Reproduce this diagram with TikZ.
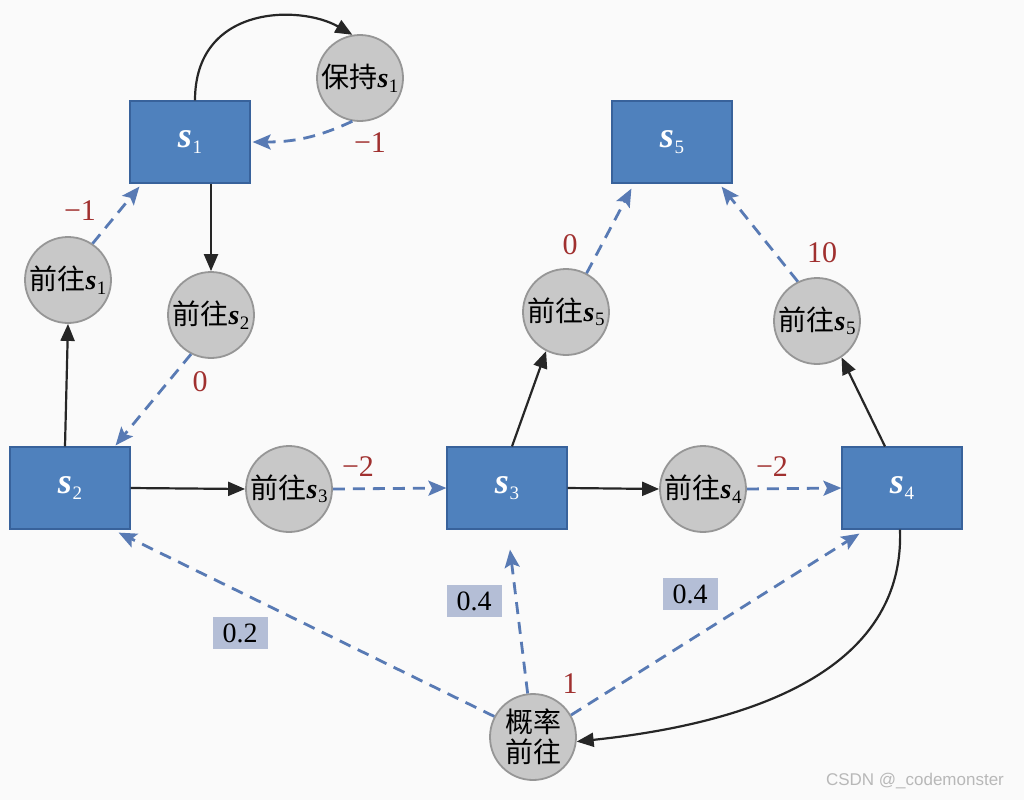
\documentclass[tikz,border=0pt]{standalone}
\usepackage{fontspec}
\setmainfont{Liberation Serif}
\newfontfamily\cjk{Noto Sans CJK SC}
\newfontfamily\wmfont{Liberation Sans}
\usetikzlibrary{arrows.meta}
\definecolor{boxblue}{RGB}{79,129,189}
\definecolor{boxedge}{RGB}{56,98,155}
\definecolor{circfill}{RGB}{200,200,200}
\definecolor{circedge}{RGB}{150,150,150}
\definecolor{dashblue}{RGB}{88,122,180}
\definecolor{numred}{RGB}{160,48,47}
\definecolor{probfill}{RGB}{180,190,214}
\definecolor{bgcol}{RGB}{250,250,250}
\newcommand{\sv}[1]{{\bfseries\itshape s}\kern0.3pt\raisebox{-0.35ex}{\fontsize{9.5}{10}\selectfont #1}}
\begin{document}
\begin{tikzpicture}[x=0.5pt,y=0.5pt,
  state/.style={rectangle, fill=boxblue, draw=boxedge, line width=0.6pt,
    minimum width=60pt, minimum height=41pt, inner sep=0pt, text=white,
    font=\fontsize{18}{20}\selectfont},
  act/.style={circle, fill=circfill, draw=circedge, line width=0.9pt,
    minimum size=43pt, inner sep=0pt, font=\fontsize{14}{16}\selectfont},
  solidarrow/.style={draw=black!85, line width=1.1pt,
    -{Triangle[length=8.5pt,width=7pt]}},
  dasharrow/.style={draw=dashblue, line width=1.4pt, dash pattern=on 6pt off 4pt,
    -{Stealth[length=9pt,width=7.5pt,inset=1.8pt]}},
  reward/.style={text=numred, font=\fontsize{15}{17}\selectfont, inner sep=0pt},
  prob/.style={fill=probfill, font=\fontsize{14}{16}\selectfont,
    minimum width=27.5pt, minimum height=16pt, inner sep=0pt}]
\fill[bgcol] (0,0) rectangle (1024,-800);
\useasboundingbox (0,0) rectangle (1024,-800);

% states
\node[state] (s1) at (190,-142) {\sv{1}};
\node[state] (s2) at (70,-488) {\sv{2}};
\node[state] (s3) at (507,-488) {\sv{3}};
\node[state] (s4) at (902,-488) {\sv{4}};
\node[state] (s5) at (672,-142) {\sv{5}};

% actions
\node[act] (hold) at (360,-78) {{\cjk 保持}\sv{1}};
\node[act] (a1) at (68,-280) {{\cjk 前往}\sv{1}};
\node[act] (a2) at (211,-315) {{\cjk 前往}\sv{2}};
\node[act] (a3) at (289,-489) {{\cjk 前往}\sv{3}};
\node[act] (a4) at (703,-489) {{\cjk 前往}\sv{4}};
\node[act] (a5) at (566,-312) {{\cjk 前往}\sv{5}};
\node[act] (b5) at (817,-321) {{\cjk 前往}\sv{5}};
\node[act, align=center, font=\fontsize{14}{15}\selectfont\cjk] (p) at (533,-737) {概率\\前往};

% solid transitions
\draw[solidarrow] ([xshift=2.5pt]s1.north) .. controls +(0,96) and +(-52,30) .. (hold.100);
\draw[solidarrow] ([xshift=10.5pt]s1.south) -- (a2.north);
\draw[solidarrow] ([xshift=-2.5pt]s2.north) -- (a1.south);
\draw[solidarrow] (s2.east) -- (a3.west);
\draw[solidarrow] (s3.east) -- (a4.west);
\draw[solidarrow] ([xshift=2.5pt]s3.north) -- (a5.243);
\draw[solidarrow] ([xshift=-8.5pt]s4.north) -- (b5.-56);
\draw[solidarrow] ([xshift=-1pt]s4.south) to[out=-88,in=6] (p.-6);

% dashed outcomes
\draw[dasharrow] (hold.-100) to[out=-155,in=0] ([xshift=1pt]s1.east);
\draw[dasharrow] (a1.56) -- ([xshift=5pt,yshift=-1.5pt]s1.south west);
\draw[dasharrow] (a2.243) -- ([xshift=-7.5pt,yshift=0.5pt]s2.north east);
\draw[dasharrow] (a3.east) -- (s3.west);
\draw[dasharrow] (a4.east) -- (s4.west);
\draw[dasharrow] (a5.62) -- ([xshift=10pt,yshift=-2.5pt]s5.south west);
\draw[dasharrow] (b5.116) -- ([xshift=-5.5pt,yshift=-1.5pt]s5.south east);
\draw[dasharrow] (p.97) -- ([xshift=1.5pt,yshift=-10pt]s3.south);
\draw[dasharrow] (p.30) -- ([xshift=9pt,yshift=-2pt]s4.south west);
\draw[dasharrow] (p.152) -- ([xshift=-6pt,yshift=-1.5pt]s2.south east);

% rewards
\node[reward] (r1) at (370,-143) {−1};
\node[reward] (r2) at (80,-211) {−1};
\node[reward] (r3) at (200,-382) {0};
\node[reward] (r4) at (358,-467) {−2};
\node[reward] (r5) at (772,-467) {−2};
\node[reward] (r6) at (570,-245) {0};
\node[reward] (r7) at (822,-253) {10};
\node[reward] (r8) at (570,-684) {1};

% probabilities
\node[prob] (q1) at (240,-633) {0.2};
\node[prob] (q2) at (474,-601) {0.4};
\node[prob] (q3) at (690,-594) {0.4};

\node[text=black!28, font=\wmfont\fontsize{8.5}{10}\selectfont, inner sep=0pt] (wm) at (915,-781) {CSDN @\_codemonster};
\end{tikzpicture}
\end{document}
